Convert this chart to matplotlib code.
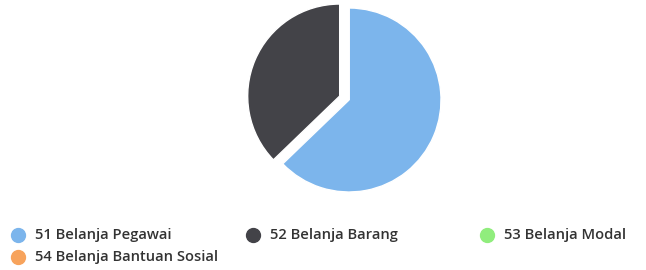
import matplotlib
matplotlib.use("Agg")
import matplotlib.pyplot as plt
from matplotlib.lines import Line2D

categories = ["51 Belanja Pegawai", "52 Belanja Barang", "53 Belanja Modal", "54 Belanja Bantuan Sosial"]
values = [62.8, 37.2, 0.0, 0.0]
colors = ["#7cb5ec", "#434348", "#90ed7d", "#f7a35c"]
explode = [0.0, 0.11, 0.0, 0.0]

W, H = 646, 270
fig = plt.figure(figsize=(W / 100, H / 100), dpi=100)
fig.patch.set_facecolor("white")

cx, cy, r = 349, 100, 92
ax = fig.add_axes([(cx - r) / W, (H - cy - r) / H, 2 * r / W, 2 * r / H])
wedges, _ = ax.pie(values, colors=colors, startangle=90, counterclock=False,
                   explode=explode, radius=1,
                   wedgeprops=dict(edgecolor="white", linewidth=1))
ax.set_xlim(-1, 1)
ax.set_ylim(-1, 1)
ax.set_aspect("equal")
ax.axis("off")
for w in wedges:
    w.set_clip_on(False)

# legend
pos = [(18, 235), (253, 235), (487, 235), (18, 257)]
for (x, y), lab, col in zip(pos, categories, colors):
    fig.add_artist(Line2D([x / W], [1 - y / H], marker="o", markersize=10,
                          color=col, linestyle="none", transform=fig.transFigure))
    fig.text((x + 17) / W, 1 - y / H, lab, fontsize=10.6, color="#333333",
             family="Open Sans", fontweight="semibold", va="center", ha="left")

fig.savefig("out.png", dpi=100, facecolor="white")
